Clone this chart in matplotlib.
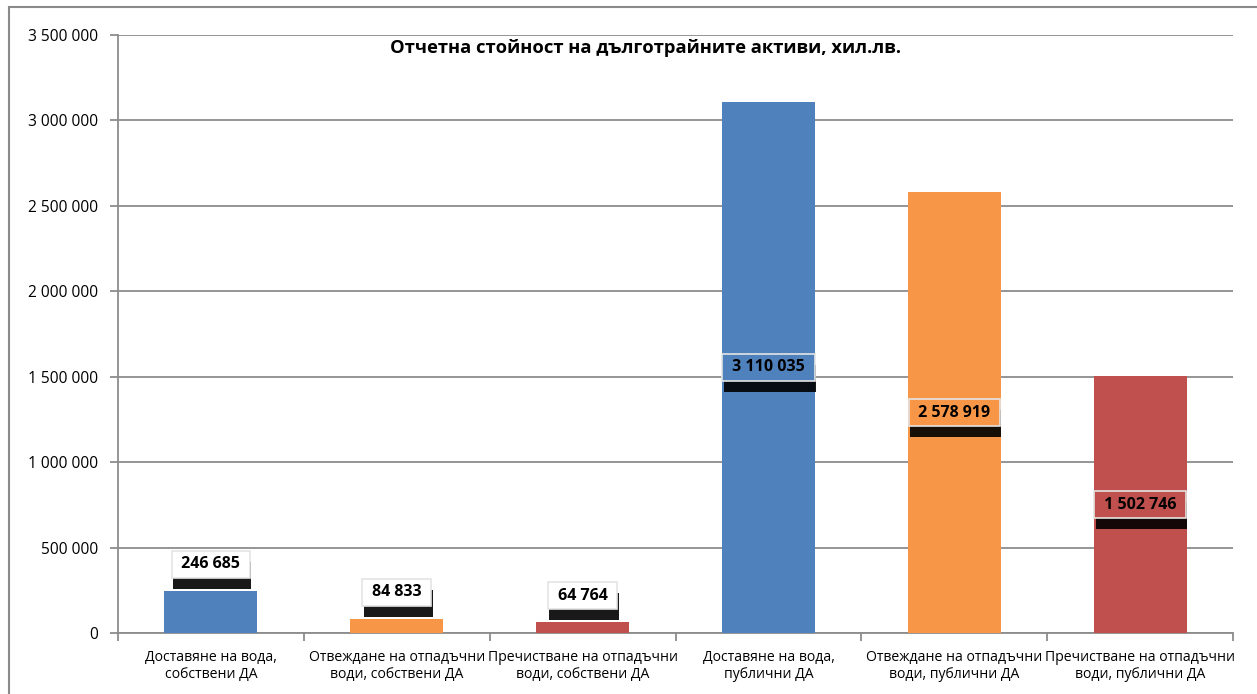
import matplotlib
matplotlib.use("Agg")
import matplotlib.pyplot as plt
import matplotlib.patheffects as pe
from matplotlib.patches import Rectangle
from matplotlib.ticker import FuncFormatter, FixedLocator
import numpy as np

plt.rcParams['font.family'] = ['Open Sans', 'DejaVu Sans']

categories = ['Доставяне на вода,\nсобствени ДА',
              'Отвеждане на отпадъчни\nводи, собствени ДА',
              'Пречистване на отпадъчни\nводи, собствени ДА',
              'Доставяне на вода,\nпублични ДА',
              'Отвеждане на отпадъчни\nводи, публични ДА',
              'Пречистване на отпадъчни\nводи, публични ДА']
values = [246685, 84833, 64764, 3110035, 2578919, 1502746]
colors = ['#4F81BD', '#F79646', '#C0504D', '#4F81BD', '#F79646', '#C0504D']
title = 'Отчетна стойност на дълготрайните активи, хил.лв.'

fig = plt.figure(figsize=(12.57, 6.94), dpi=100)
ax = fig.add_axes([0.0939, 0.0879, 0.8871, 0.8617])

# outer chart frame (top and left visible)
fig.patches.append(Rectangle((9 / 1257, -0.1), 1.2, 1 - 7 / 694 + 0.1,
                             transform=fig.transFigure, fill=False,
                             ec='#8a8a8a', lw=1.5, zorder=0))

x = np.arange(len(values))
ax.bar(x, values, width=0.5, color=colors, zorder=3)

ax.set_xlim(-0.5, len(values) - 0.5)
ax.set_ylim(0, 3500000)
ax.set_yticks(np.arange(0, 3500001, 500000))
ax.yaxis.set_major_formatter(FuncFormatter(lambda v, p: f'{int(v):,}'.replace(',', ' ')))
ax.grid(axis='y', color='#8c8c8c', lw=1.3, zorder=1)
ax.set_axisbelow(True)

ax.set_xticks(x)
ax.set_xticklabels(categories, fontsize=10.1, linespacing=1.25)
ax.xaxis.set_minor_locator(FixedLocator(np.arange(-0.5, len(values), 1.0)))
ax.tick_params(axis='x', which='major', length=0, pad=12)
ax.tick_params(axis='x', which='minor', length=6, color='#8c8c8c', width=1.3)
ax.tick_params(axis='y', length=6, color='#8c8c8c', width=1.3, labelsize=11.2, pad=8)

for s in ['top', 'right']:
    ax.spines[s].set_visible(False)
for s in ['left', 'bottom']:
    ax.spines[s].set_color('#8c8c8c')
    ax.spines[s].set_linewidth(1.3)

ax.text(0.473, 0.978, title, transform=ax.transAxes, ha='center', va='center',
        fontsize=13.2, fontweight='bold')

for xi, v, c in zip(x, values, colors):
    lbl = ' ' + f'{v:,}'.replace(',', ' ') + ' '
    if v > 1000000:
        t = ax.text(xi, v / 2, lbl, ha='center', va='center', fontsize=11.5,
                    fontweight='bold', zorder=6,
                    bbox=dict(boxstyle='square,pad=0.35', fc=c, ec='#e4e4e4', lw=1.2))
    else:
        t = ax.annotate(lbl, (xi, v), xytext=(0, 19), textcoords='offset points',
                        ha='center', va='center', fontsize=11.5, fontweight='bold', zorder=6,
                        bbox=dict(boxstyle='square,pad=0.35', fc='white', ec='#e4e4e4', lw=1.2))
    t.get_bbox_patch().set_path_effects([
        pe.SimplePatchShadow(offset=(1, -8), shadow_rgbFace='black', alpha=0.9),
        pe.Normal()])

fig.savefig('out.png', dpi=100)
